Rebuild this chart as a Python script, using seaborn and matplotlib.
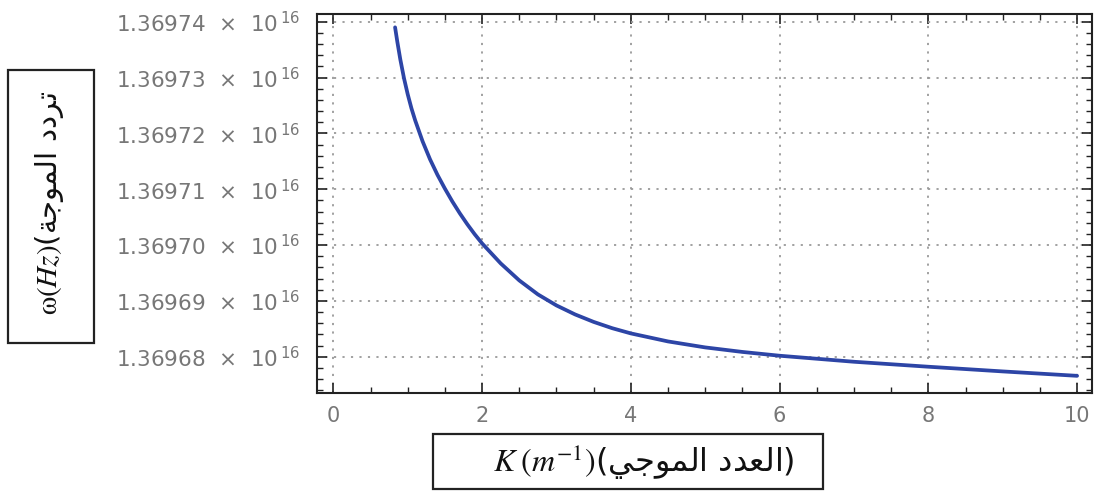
import matplotlib
matplotlib.use("Agg")
import matplotlib.pyplot as plt
from matplotlib.patches import Rectangle
from matplotlib.ticker import FixedLocator, MultipleLocator, FuncFormatter
import seaborn as sns
import pandas as pd

# Wave number K (1/m) and the corresponding wave frequency omega (Hz)
wavenumber = [0.83, 0.86, 0.90, 0.95, 1.00, 1.05, 1.10, 1.20, 1.30, 1.40, 1.50,
              1.60, 1.70, 1.80, 1.90, 2.00, 2.25, 2.50, 2.75, 3.00, 3.25, 3.50,
              3.75, 4.00, 4.50, 5.00, 5.50, 6.00, 7.00, 8.00, 9.00, 10.0]
frequency = [1.36973901e16, 1.36973643e16, 1.36973328e16, 1.36972988e16, 1.36972701e16,
             1.36972450e16, 1.36972235e16, 1.36971858e16, 1.36971536e16, 1.36971258e16,
             1.36971011e16, 1.36970781e16, 1.36970570e16, 1.36970375e16, 1.36970195e16,
             1.36970030e16, 1.36969672e16, 1.36969367e16, 1.36969117e16, 1.36968919e16,
             1.36968758e16, 1.36968624e16, 1.36968511e16, 1.36968418e16, 1.36968274e16,
             1.36968167e16, 1.36968086e16, 1.36968018e16, 1.36967910e16, 1.36967821e16,
             1.36967737e16, 1.36967658e16]

x_ticks = [0, 2, 4, 6, 8, 10]
y_ticks = [1.36968e16, 1.36969e16, 1.36970e16, 1.36971e16, 1.36972e16, 1.36973e16, 1.36974e16]

# Arabic labels written in visual (left-to-right) order with presentation forms
arabic_wavenumber = "\uFEF2\uFE9F\uFEEE\uFEE4\uFEDF\uFE8D \uFEA9\uFEAA\uFECC\uFEDF\uFE8D"
arabic_frequency = "\uFE94\uFE9F\uFEEE\uFEE4\uFEDF\uFE8D \uFEA9\uFEA9\uFEAE\uFE97"

sns.set_theme(style="white")
plt.rcParams["font.family"] = ["DejaVu Sans"]
plt.rcParams["mathtext.fontset"] = "stix"

df = pd.DataFrame({"K": wavenumber, "omega": frequency})

fig = plt.figure(figsize=(10.98, 4.93), dpi=100)
ax = fig.add_axes([0.2887, 0.2028, 0.7058, 0.7688])

sns.lineplot(data=df, x="K", y="omega", ax=ax, color="#2d45a6", linewidth=2.7,
             sort=True, estimator=None)

ax.set_xlim(-0.22, 10.2)
ax.set_ylim(1.3696735e16, 1.3697414e16)

ax.xaxis.set_major_locator(FixedLocator(x_ticks))
ax.xaxis.set_minor_locator(MultipleLocator(0.5))
ax.yaxis.set_major_locator(FixedLocator(y_ticks))
ax.yaxis.set_minor_locator(MultipleLocator(2e10))

ax.xaxis.set_major_formatter(FuncFormatter(lambda v, p: f"{v:g}"))
ax.yaxis.set_major_formatter(
    FuncFormatter(lambda v, p: f"{v / 1e16:.5f}  ×  10" + r"$\mathregular{\,^{16}}$"))

ax.tick_params(axis="both", which="both", direction="in", top=True, right=True,
               bottom=True, left=True, colors="#222222", labelcolor="#777777")
ax.tick_params(axis="both", which="major", length=7, width=1.2)
ax.tick_params(axis="both", which="minor", length=4, width=1.0)
ax.tick_params(axis="y", which="major", labelsize=15.5, pad=12)
ax.tick_params(axis="x", which="major", labelsize=15, pad=9)

ax.grid(True, which="major", color="#9a9a9a", linestyle=(0, (1.2, 3.5)), linewidth=1.3)
for s in ax.spines.values():
    s.set_visible(True)
    s.set_color("#222222")
    s.set_linewidth(1.5)

ax.set_xlabel("")
ax.set_ylabel("")

# Boxed axis titles
fig.patches.append(Rectangle((8 / 1098, 1 - 343 / 493), 86 / 1098, 273 / 493,
                             transform=fig.transFigure, fill=False,
                             edgecolor="#222222", linewidth=1.6))
fig.text(50 / 1098, 1 - 203 / 493,
         r"$\mathrm{\omega}(Hz)$(" + arabic_frequency,
         rotation=90, ha="center", va="center", fontsize=21, color="#111111")

fig.patches.append(Rectangle((433 / 1098, 1 - 489 / 493), 390 / 1098, 55 / 493,
                             transform=fig.transFigure, fill=False,
                             edgecolor="#222222", linewidth=1.6))
fig.text(644 / 1098, 1 - 462 / 493,
         r"$K\;(m^{-1})$(" + arabic_wavenumber + ")",
         ha="center", va="center", fontsize=23, color="#111111")

fig.savefig("out.png", dpi=100)
